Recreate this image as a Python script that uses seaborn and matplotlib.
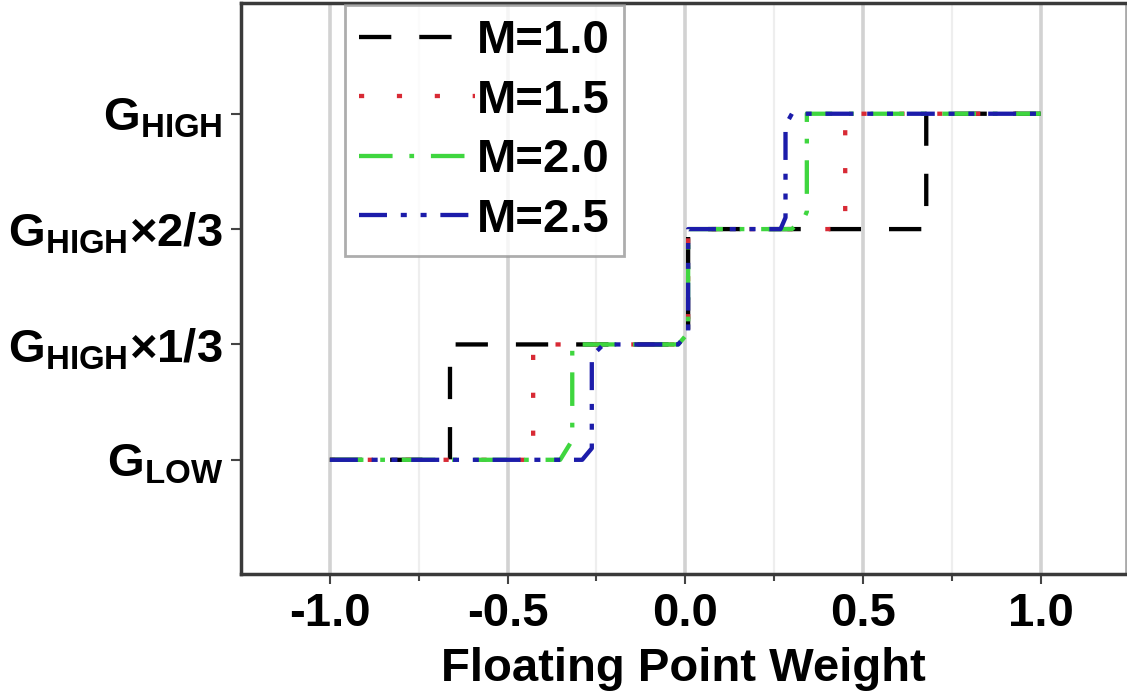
import matplotlib
matplotlib.use("Agg")
import matplotlib.pyplot as plt
import seaborn as sns
import numpy as np

# ---- data ----
labels = ["M=1.0", "M=1.5", "M=2.0", "M=2.5"]

x_m10 = [-1.0, -0.662, -0.662, -0.02, 0.008, 0.008, 0.678, 0.678, 1.0]
y_m10 = [0, 0, 1, 1, 1.1, 2, 2, 3, 3]

x_m15 = [-1.0, -0.428, -0.428, -0.02, 0.008, 0.008, 0.45, 0.45, 1.0]
y_m15 = [0, 0, 1, 1, 1.1, 2, 2, 3, 3]

x_m20 = [-1.0, -0.352, -0.318, -0.318, -0.02, 0.008, 0.008, 0.30, 0.335, 0.342, 0.342, 1.0]
y_m20 = [0, 0, 0.17, 1, 1, 1.1, 2, 2, 2.1, 2.15, 3, 3]

x_m25 = [-1.0, -0.29, -0.263, -0.263, -0.23, -0.02, 0.008, 0.008, 0.268, 0.282, 0.282, 0.30, 1.0]
y_m25 = [0, 0, 0.1, 0.9, 1, 1, 1.1, 2, 2, 2.1, 2.9, 3, 3]

xticks = [-1.0, -0.5, 0.0, 0.5, 1.0]
xticklabels = ["-1.0", "-0.5", "0.0", "0.5", "1.0"]
yticks = [0, 1, 2, 3]
yticklabels = [r"$\mathrm{G_{LOW}}$", r"$\mathrm{G_{HIGH}}$×1/3",
               r"$\mathrm{G_{HIGH}}$×2/3", r"$\mathrm{G_{HIGH}}$"]

# ---- styles ----
colors = ["#000000", "#d82a35", "#3fd63f", "#1c1caa"]
dashes = [(7.5, 6.5), (1.2, 7.6), (7.8, 3.9, 1.1, 3.9), (6.5, 3.2, 1.4, 3.2, 1.4, 3.2)]

sns.set_style("white")
plt.rcParams["font.family"] = ["Liberation Sans", "DejaVu Sans"]
plt.rcParams["font.weight"] = "bold"
plt.rcParams["mathtext.fontset"] = "custom"
plt.rcParams["mathtext.rm"] = "Liberation Sans:bold"
plt.rcParams["mathtext.bf"] = "Liberation Sans:bold"
plt.rcParams["mathtext.it"] = "Liberation Sans:bold"
plt.rcParams["text.color"] = "black"
plt.rcParams["axes.labelcolor"] = "black"
plt.rcParams["xtick.color"] = "black"
plt.rcParams["ytick.color"] = "black"

W, H = 1127, 698
fig = plt.figure(figsize=(W / 100, H / 100), dpi=100)
ax = fig.add_axes([241 / W, (H - 574) / H, (1126 - 241) / W, (574 - 3) / H])

series = [(x_m10, y_m10), (x_m15, y_m15), (x_m20, y_m20), (x_m25, y_m25)]
lw = 3.1
for (xs, ys), lab, c, d in zip(series, labels, colors, dashes):
    sns.lineplot(x=xs, y=ys, ax=ax, color=c, linewidth=lw, label=lab,
                 sort=False, estimator=None, linestyle=(0, d))

ax.set_xlim(-1.25, 1.24)
ax.set_ylim(-0.99, 3.96)

ax.set_xticks(xticks)
ax.set_xticklabels(xticklabels)
ax.set_xticks([-0.75, -0.25, 0.25, 0.75], minor=True)
ax.set_yticks(yticks)
ax.set_yticklabels(yticklabels)

ax.grid(True, axis="x", which="major", color="#d2d2d2", linewidth=2.6)
ax.grid(True, axis="x", which="minor", color="#eeeeee", linewidth=1.6)
ax.grid(False, axis="y")
ax.set_axisbelow(True)

for side in ["left", "bottom", "top"]:
    ax.spines[side].set_color("#3a3a3a")
    ax.spines[side].set_linewidth(2.5)
ax.spines["right"].set_color("#aaaaaa")
ax.spines["right"].set_linewidth(2.0)

ax.tick_params(axis="both", which="major", labelsize=34, direction="out",
               length=7, width=1.5, color="#444444", pad=6, bottom=True, left=True)
ax.tick_params(axis="x", which="minor", direction="out", length=5, width=1.5,
               color="#444444", bottom=True)
for t in ax.get_xticklabels() + ax.get_yticklabels():
    t.set_fontweight("bold")

ax.set_xlabel("Floating Point Weight", fontsize=34, fontweight="bold", labelpad=8)
ax.set_ylabel("")

leg = ax.legend(loc="upper left", bbox_to_anchor=(345 / W, 1 - 5 / H),
                bbox_transform=fig.transFigure, borderaxespad=0,
                fontsize=34, frameon=True, fancybox=False, handlelength=2.45,
                handletextpad=0.05, labelspacing=0.33, borderpad=0.3)
leg.get_frame().set_edgecolor("#999999")
leg.get_frame().set_linewidth(2.0)
for t in leg.get_texts():
    t.set_fontweight("bold")

fig.savefig("out.png", dpi=100)
